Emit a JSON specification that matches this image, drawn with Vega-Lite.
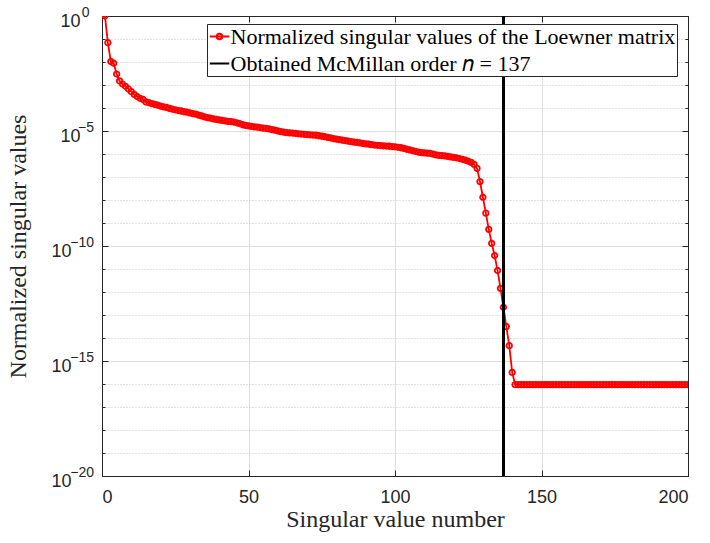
{
  "$schema": "https://vega.github.io/schema/vega-lite/v6.json",
  "width": 586,
  "height": 460,
  "autosize": "none",
  "padding": {"left": 102, "top": 16, "right": 22, "bottom": 67},
  "background": "white",
  "config": {
    "font": "Liberation Sans",
    "view": {"stroke": null},
    "axis": {"domainColor": "#262626", "tickColor": "#262626", "labelColor": "#262626", "titleColor": "#262626"}
  },
  "data": {"values": [
    {"i":1,"s":1},{"i":2,"s":6.93e-2},{"i":3,"s":1.05e-2},{"i":4,"s":8.83e-3},{"i":5,"s":3.00e-3},
    {"i":6,"s":1.51e-3},{"i":7,"s":1.10e-3},{"i":8,"s":8.81e-4},{"i":9,"s":6.73e-4},{"i":10,"s":5.14e-4},
    {"i":11,"s":3.92e-4},{"i":12,"s":3.15e-4},{"i":13,"s":2.65e-4},{"i":14,"s":2.34e-4},{"i":15,"s":1.83e-4},
    {"i":16,"s":1.70e-4},{"i":17,"s":1.55e-4},{"i":18,"s":1.44e-4},{"i":19,"s":1.33e-4},{"i":20,"s":1.21e-4},
    {"i":21,"s":1.12e-4},{"i":22,"s":1.07e-4},{"i":23,"s":9.68e-5},{"i":24,"s":8.99e-5},{"i":25,"s":8.36e-5},
    {"i":26,"s":7.76e-5},{"i":27,"s":7.40e-5},{"i":28,"s":6.87e-5},{"i":29,"s":6.55e-5},{"i":30,"s":6.08e-5},
    {"i":31,"s":5.65e-5},{"i":32,"s":5.38e-5},{"i":33,"s":4.88e-5},{"i":34,"s":4.53e-5},{"i":35,"s":4.11e-5},
    {"i":36,"s":3.82e-5},{"i":37,"s":3.63e-5},{"i":38,"s":3.37e-5},{"i":39,"s":3.21e-5},{"i":40,"s":3.06e-5},
    {"i":41,"s":2.91e-5},{"i":42,"s":2.77e-5},{"i":43,"s":2.64e-5},{"i":44,"s":2.58e-5},{"i":45,"s":2.45e-5},
    {"i":46,"s":2.28e-5},{"i":47,"s":2.07e-5},{"i":48,"s":1.87e-5},{"i":49,"s":1.74e-5},{"i":50,"s":1.66e-5},
    {"i":51,"s":1.58e-5},{"i":52,"s":1.50e-5},{"i":53,"s":1.47e-5},{"i":54,"s":1.40e-5},{"i":55,"s":1.33e-5},
    {"i":56,"s":1.30e-5},{"i":57,"s":1.24e-5},{"i":58,"s":1.15e-5},{"i":59,"s":1.09e-5},{"i":60,"s":1.02e-5},
    {"i":61,"s":9.44e-6},{"i":62,"s":8.97e-6},{"i":63,"s":8.55e-6},{"i":64,"s":8.34e-6},{"i":65,"s":8.15e-6},
    {"i":66,"s":7.94e-6},{"i":67,"s":7.57e-6},{"i":68,"s":7.38e-6},{"i":69,"s":7.19e-6},{"i":70,"s":7.03e-6},
    {"i":71,"s":6.85e-6},{"i":72,"s":6.68e-6},{"i":73,"s":6.53e-6},{"i":74,"s":6.22e-6},{"i":75,"s":5.92e-6},
    {"i":76,"s":5.64e-6},{"i":77,"s":5.24e-6},{"i":78,"s":4.99e-6},{"i":79,"s":4.63e-6},{"i":80,"s":4.41e-6},
    {"i":81,"s":4.20e-6},{"i":82,"s":4.00e-6},{"i":83,"s":3.81e-6},{"i":84,"s":3.62e-6},{"i":85,"s":3.45e-6},
    {"i":86,"s":3.29e-6},{"i":87,"s":3.21e-6},{"i":88,"s":3.05e-6},{"i":89,"s":2.90e-6},{"i":90,"s":2.77e-6},
    {"i":91,"s":2.70e-6},{"i":92,"s":2.57e-6},{"i":93,"s":2.45e-6},{"i":94,"s":2.39e-6},{"i":95,"s":2.33e-6},
    {"i":96,"s":2.28e-6},{"i":97,"s":2.22e-6},{"i":98,"s":2.17e-6},{"i":99,"s":2.11e-6},{"i":100,"s":2.06e-6},
    {"i":101,"s":1.96e-6},{"i":102,"s":1.87e-6},{"i":103,"s":1.74e-6},{"i":104,"s":1.61e-6},{"i":105,"s":1.50e-6},
    {"i":106,"s":1.39e-6},{"i":107,"s":1.29e-6},{"i":108,"s":1.20e-6},{"i":109,"s":1.15e-6},{"i":110,"s":1.12e-6},
    {"i":111,"s":1.09e-6},{"i":112,"s":1.06e-6},{"i":113,"s":9.89e-7},{"i":114,"s":9.18e-7},{"i":115,"s":8.75e-7},
    {"i":116,"s":8.53e-7},{"i":117,"s":8.32e-7},{"i":118,"s":7.93e-7},{"i":119,"s":7.55e-7},{"i":120,"s":7.18e-7},
    {"i":121,"s":6.84e-7},{"i":122,"s":6.35e-7},{"i":123,"s":5.90e-7},{"i":124,"s":5.36e-7},{"i":125,"s":4.85e-7},
    {"i":126,"s":4.30e-7},{"i":127,"s":3.52e-7},{"i":128,"s":2.38e-7},{"i":129,"s":6.34e-8},{"i":130,"s":1.32e-8},
    {"i":131,"s":2.68e-9},{"i":132,"s":5.31e-10},{"i":133,"s":1.31e-10},{"i":134,"s":3.85e-11},{"i":135,"s":8.63e-12},
    {"i":136,"s":1.44e-12},{"i":137,"s":2.18e-13},{"i":138,"s":3.14e-14},{"i":139,"s":4.63e-15},{"i":140,"s":3.20e-16},
    {"i":141,"s":9.33e-17},{"i":142,"s":9.33e-17},{"i":143,"s":9.33e-17},{"i":144,"s":9.33e-17},{"i":145,"s":9.33e-17},
    {"i":146,"s":9.33e-17},{"i":147,"s":9.33e-17},{"i":148,"s":9.33e-17},{"i":149,"s":9.33e-17},{"i":150,"s":9.33e-17},
    {"i":151,"s":9.33e-17},{"i":152,"s":9.33e-17},{"i":153,"s":9.33e-17},{"i":154,"s":9.33e-17},{"i":155,"s":9.33e-17},
    {"i":156,"s":9.33e-17},{"i":157,"s":9.33e-17},{"i":158,"s":9.33e-17},{"i":159,"s":9.33e-17},{"i":160,"s":9.33e-17},
    {"i":161,"s":9.33e-17},{"i":162,"s":9.33e-17},{"i":163,"s":9.33e-17},{"i":164,"s":9.33e-17},{"i":165,"s":9.33e-17},
    {"i":166,"s":9.33e-17},{"i":167,"s":9.33e-17},{"i":168,"s":9.33e-17},{"i":169,"s":9.33e-17},{"i":170,"s":9.33e-17},
    {"i":171,"s":9.33e-17},{"i":172,"s":9.33e-17},{"i":173,"s":9.33e-17},{"i":174,"s":9.33e-17},{"i":175,"s":9.33e-17},
    {"i":176,"s":9.33e-17},{"i":177,"s":9.33e-17},{"i":178,"s":9.33e-17},{"i":179,"s":9.33e-17},{"i":180,"s":9.33e-17},
    {"i":181,"s":9.33e-17},{"i":182,"s":9.33e-17},{"i":183,"s":9.33e-17},{"i":184,"s":9.33e-17},{"i":185,"s":9.33e-17},
    {"i":186,"s":9.33e-17},{"i":187,"s":9.33e-17},{"i":188,"s":9.33e-17},{"i":189,"s":9.33e-17},{"i":190,"s":9.33e-17},
    {"i":191,"s":9.33e-17},{"i":192,"s":9.33e-17},{"i":193,"s":9.33e-17},{"i":194,"s":9.33e-17},{"i":195,"s":9.33e-17},
    {"i":196,"s":9.33e-17},{"i":197,"s":9.33e-17},{"i":198,"s":9.33e-17},{"i":199,"s":9.33e-17},{"i":200,"s":9.33e-17}
  ]},
  "layer": [
    {
      "mark": {"type": "line", "strokeWidth": 1.8, "clip": true},
      "encoding": {
        "x": {"field": "i", "type": "quantitative",
          "scale": {"domain": [0, 200], "nice": false, "zero": false},
          "axis": {"orient": "bottom", "values": [0, 50, 100, 150, 200], "title": "Singular value number",
            "titleFont": "Liberation Serif", "titleFontSize": 24, "titleFontWeight": "normal",
            "titleY": 50, "titleBaseline": "alphabetic",
            "labelFont": "Liberation Sans", "labelFontSize": 18, "labelPadding": 18,
            "tickSize": -6, "grid": true, "gridColor": "#dfdfdf", "gridWidth": 1, "domainWidth": 1}},
        "y": {"field": "s", "type": "quantitative",
          "scale": {"type": "log", "domain": [1e-20, 1], "nice": false},
          "axis": {"orient": "left",
            "values": [1, 1e-1, 1e-2, 1e-3, 1e-4, 1e-5, 1e-6, 1e-7, 1e-8, 1e-9, 1e-10, 1e-11, 1e-12, 1e-13, 1e-14, 1e-15, 1e-16, 1e-17, 1e-18, 1e-19, 1e-20],
            "labelExpr": "round(log(datum.value)/LN10) % 5 == 0 ? '10' : ''",
            "labelOverlap": false, "labelFont": "Liberation Sans", "labelFontSize": 18, "labelAlign": "right", "labelOffset": 5,
            "labelPadding": {"condition": {"test": "round(log(datum.value)/LN10) > -6", "value": 28}, "value": 37},
            "title": "Normalized singular values", "titleFont": "Liberation Serif", "titleFontSize": 24, "titleFontWeight": "normal",
            "titleX": -77, "titleBaseline": "alphabetic",
            "tickSize": {"condition": {"test": "round(log(datum.value)/LN10) % 5 == 0", "value": -6}, "value": -3},
            "grid": true,
            "gridDash": {"condition": {"test": "round(log(datum.value)/LN10) % 5 == 0", "value": []}, "value": [1, 2]},
            "gridColor": {"condition": {"test": "round(log(datum.value)/LN10) % 5 == 0", "value": "#dfdfdf"}, "value": "#c4c4c4"},
            "domainWidth": 1}},
        "color": {"datum": "Normalized singular values of the Loewner matrix", "type": "nominal",
          "scale": {"domain": ["Normalized singular values of the Loewner matrix", "Obtained McMillan order 𝑛 = 137"], "range": ["#ff0000", "#000000"]},
          "legend": {"orient": "none", "legendX": 105, "legendY": 8, "title": null,
            "strokeColor": "#262626", "fillColor": "white", "padding": 1.5, "cornerRadius": 0,
            "labelFont": "Liberation Serif", "labelFontSize": 22, "labelColor": "#000000", "labelLimit": 0, "labelOffset": 0,
            "symbolSize": 380, "symbolStrokeWidth": 2, "rowPadding": 5, "symbolType": "stroke",
            "encode": {"symbols": {"update": {"shape": {"signal": "indexof(datum.value, 'Obtained') == 0 ? 'stroke' : 'M-1,0H1M0.28,0A0.28,0.28,0,1,1,-0.28,0A0.28,0.28,0,1,1,0.28,0'"}, "fill": {"value": "transparent"}}}}}}
      }
    },
    {
      "mark": {"type": "point", "shape": "circle", "filled": false, "stroke": "#ff0000", "size": 30, "strokeWidth": 1.8, "opacity": 1, "clip": true},
      "encoding": {
        "x": {"field": "i", "type": "quantitative", "axis": null},
        "y": {"field": "s", "type": "quantitative",
          "axis": {"orient": "right",
            "values": [1, 1e-1, 1e-2, 1e-3, 1e-4, 1e-5, 1e-6, 1e-7, 1e-8, 1e-9, 1e-10, 1e-11, 1e-12, 1e-13, 1e-14, 1e-15, 1e-16, 1e-17, 1e-18, 1e-19, 1e-20],
            "labels": false, "grid": false, "title": null, "domainWidth": 1,
            "tickSize": {"condition": {"test": "round(log(datum.value)/LN10) % 5 == 0", "value": -6}, "value": -3}}}
      }
    },
    {
      "mark": {"type": "point", "opacity": 0},
      "encoding": {
        "x": {"field": "i", "type": "quantitative", "axis": null},
        "y": {"field": "s", "type": "quantitative",
          "axis": {"orient": "left",
            "values": [1, 1e-5, 1e-10, 1e-15, 1e-20],
            "labelExpr": "round(log(datum.value)/LN10) == 0 ? '0' : '−' + (-round(log(datum.value)/LN10))",
            "labelOverlap": false, "labelFont": "Liberation Sans", "labelFontSize": 14, "labelAlign": "right", "labelOffset": -4,
            "labelPadding": {"condition": {"test": "round(log(datum.value)/LN10) == 0", "value": 13}, "value": 8.5},
            "ticks": false, "domain": false, "grid": false, "title": null}}
      }
    },
    {
      "mark": {"type": "rule", "strokeWidth": 2, "clip": true},
      "encoding": {
        "x": {"datum": 137, "type": "quantitative",
          "axis": {"orient": "top", "values": [0, 50, 100, 150, 200], "labels": false, "grid": false, "title": null, "tickSize": -6, "domainWidth": 1}},
        "color": {"datum": "Obtained McMillan order 𝑛 = 137", "type": "nominal"}
      }
    }
  ],
  "resolve": {"axis": {"x": "independent", "y": "independent"}}
}
